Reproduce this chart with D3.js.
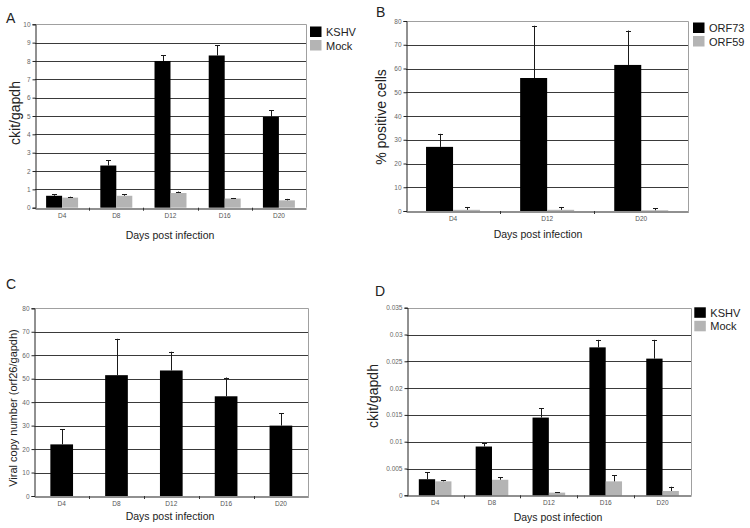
<!DOCTYPE html>
<html>
<head>
<meta charset="utf-8">
<script src="https://cdn.jsdelivr.net/npm/d3@7"></script>
<style>
  html, body { margin: 0; padding: 0; background: #fff; }
  svg { display: block; font-family: "Liberation Sans", Arial, sans-serif; }
</style>
</head>
<body>
<svg id="chart" width="750" height="528"></svg>
<script>
// ---------------- DATA ----------------
const categoriesA = ["D4", "D8", "D12", "D16", "D20"];
const kshvA = [0.65, 2.3, 8.0, 8.3, 4.95];
const kshvAErr = [0.07, 0.3, 0.3, 0.55, 0.35];
const mockA = [0.55, 0.65, 0.8, 0.5, 0.4];
const mockAErr = [0.05, 0.07, 0.08, 0.03, 0.08];
const yTicksA = [0, 1, 2, 3, 4, 5, 6, 7, 8, 9, 10];

const categoriesB = ["D4", "D12", "D20"];
const orf73 = [27, 56, 61.5];
const orf73Err = [5.5, 22, 14.5];
const orf59 = [0.5, 0.5, 0.3];
const orf59Err = [1.2, 1.2, 0.9];
const yTicksB = [0, 10, 20, 30, 40, 50, 60, 70, 80];

const categoriesC = ["D4", "D8", "D12", "D16", "D20"];
const viralCopy = [22, 51.5, 53.5, 42.5, 30];
const viralCopyErr = [6.5, 15.5, 8, 8, 5.3];
const yTicksC = [0, 10, 20, 30, 40, 50, 60, 70, 80];

const categoriesD = ["D4", "D8", "D12", "D16", "D20"];
const kshvD = [0.003, 0.0091, 0.0145, 0.0276, 0.0255];
const kshvDErr = [0.0013, 0.0006, 0.0017, 0.0014, 0.0035];
const mockD = [0.0026, 0.0029, 0.0005, 0.0026, 0.0008];
const mockDErr = [0.0002, 0.0005, 0.0001, 0.0011, 0.0008];
const yTicksD = [0, 0.005, 0.01, 0.015, 0.02, 0.025, 0.03, 0.035];
const yTickLabelsD = ["0", "0.005", "0.01", "0.015", "0.02", "0.025", "0.03", "0.035"];

const seriesNamesAD = ["KSHV", "Mock"];
const seriesNamesB = ["ORF73", "ORF59"];
const xTitle = "Days post infection";

// ---------------- DRAWING ----------------
const svg = d3.select("#chart");
const colors = ["#000000", "#b4b4b4"];

function panel(cfg) {
  const g = svg.append("g");
  const x = d3.scaleBand().domain(cfg.categories).range([cfg.left, cfg.right]);
  const y = d3.scaleLinear().domain([0, cfg.yTicks[cfg.yTicks.length - 1]]).range([cfg.bottom, cfg.top]);
  const nS = cfg.series.length;
  const barW = x.bandwidth() * cfg.barFrac;
  const x1 = d3.scaleBand().domain(d3.range(nS)).range([0, barW * nS]);

  // grid lines
  g.append("g").selectAll("line")
    .data(cfg.yTicks.slice(1, -1))
    .join("line")
    .attr("x1", cfg.left).attr("x2", cfg.right)
    .attr("y1", d => Math.round(y(d)) + 0.5).attr("y2", d => Math.round(y(d)) + 0.5)
    .attr("stroke", "#3a3a3a").attr("stroke-width", 1);

  // top & right border
  g.append("path")
    .attr("d", `M${cfg.left},${Math.round(cfg.top) + 0.5}H${Math.round(cfg.right) + 0.5}V${cfg.bottom}`)
    .attr("fill", "none").attr("stroke", "#a0a0a0").attr("stroke-width", 1);

  // bars
  cfg.series.forEach((s, si) => {
    g.append("g").selectAll("rect")
      .data(s.values.map((v, i) => ({ v, e: s.err[i], c: cfg.categories[i] })))
      .join("rect")
      .attr("x", d => x(d.c) + x.bandwidth() / 2 - barW * nS / 2 + x1(si))
      .attr("width", x1.bandwidth())
      .attr("y", d => y(d.v))
      .attr("height", d => y(0) - y(d.v))
      .attr("fill", colors[si]);
    // error bars (upper only)
    const eb = g.append("g").attr("stroke", "#1a1a1a").attr("stroke-width", 1);
    const data = s.values.map((v, i) => ({ v, e: s.err[i], c: cfg.categories[i] }));
    const cx = d => Math.round(x(d.c) + x.bandwidth() / 2 - barW * nS / 2 + x1(si) + x1.bandwidth() / 2) + 0.5;
    eb.selectAll("line.stem").data(data).join("line").attr("class", "stem")
      .attr("x1", cx).attr("x2", cx)
      .attr("y1", d => y(d.v)).attr("y2", d => y(d.v + d.e));
    eb.selectAll("line.cap").data(data).join("line").attr("class", "cap")
      .attr("x1", d => cx(d) - 2.5).attr("x2", d => cx(d) + 2.5)
      .attr("y1", d => Math.round(y(d.v + d.e)) + 0.5).attr("y2", d => Math.round(y(d.v + d.e)) + 0.5);
  });

  // y axis
  const ya = d3.axisLeft(y).tickValues(cfg.yTicks).tickSize(3).tickPadding(2)
    .tickFormat((d, i) => cfg.yTickLabels ? cfg.yTickLabels[i] : String(d));
  const yg = g.append("g").attr("transform", `translate(${Math.round(cfg.left) + 0.5},0)`).call(ya);
  yg.select(".domain").attr("stroke", "#222");
  yg.selectAll(".tick line").attr("stroke", "#222");
  yg.selectAll(".tick text").attr("fill", "#666").style("font-size", "6.5px")
    .style("font-family", "Liberation Sans, Arial, sans-serif");

  // x axis
  const xa = d3.axisBottom(x).tickSize(0).tickPadding(5);
  const xg = g.append("g").attr("transform", `translate(0,${Math.round(cfg.bottom) + 0.5})`).call(xa);
  xg.select(".domain").attr("stroke", "#222").attr("stroke-width", 1.2);
  xg.selectAll(".tick text").attr("fill", "#555").style("font-size", "6.5px")
    .style("font-family", "Liberation Sans, Arial, sans-serif");
  // separators between categories
  g.append("g").selectAll("line")
    .data(cfg.categories.slice(1))
    .join("line")
    .attr("x1", d => Math.round(x(d)) + 0.5).attr("x2", d => Math.round(x(d)) + 0.5)
    .attr("y1", cfg.bottom).attr("y2", cfg.bottom + 3)
    .attr("stroke", "#333");

  // titles
  g.append("text").attr("x", cfg.xTitleX).attr("y", cfg.xTitleY)
    .attr("text-anchor", "middle").style("font-size", "10.5px").attr("fill", "#222").text(xTitle);
  g.append("text")
    .attr("transform", `translate(${cfg.yTitleX},${cfg.yTitleY}) rotate(-90)`)
    .attr("text-anchor", "middle").style("font-size", cfg.yTitleSize).attr("fill", "#222").text(cfg.yTitle);
  g.append("text").attr("x", cfg.letterX).attr("y", cfg.letterY)
    .style("font-size", "14px").attr("fill", "#222").text(cfg.letter);

  // legend
  if (cfg.legendX !== undefined) {
    cfg.series.forEach((s, si) => {
      g.append("rect").attr("x", cfg.legendX).attr("y", cfg.legendY + si * 13.5)
        .attr("width", 11.5).attr("height", 10.5).attr("fill", colors[si]);
      g.append("text").attr("x", cfg.legendX + 16).attr("y", cfg.legendY + si * 13.5 + 9.5)
        .style("font-size", "11px").attr("fill", "#222").text(s.name);
    });
  }
}

panel({
  letter: "A", letterX: 6, letterY: 23,
  categories: categoriesA, yTicks: yTicksA,
  series: [
    { name: seriesNamesAD[0], values: kshvA, err: kshvAErr },
    { name: seriesNamesAD[1], values: mockA, err: mockAErr }
  ],
  left: 35, right: 306, top: 24.3, bottom: 207.7, barFrac: 0.295,
  yTitle: "ckit/gapdh", yTitleX: 20, yTitleY: 113, yTitleSize: "14px",
  xTitleX: 170, xTitleY: 239,
  legendX: 310, legendY: 26.5
});

panel({
  letter: "B", letterX: 376, letterY: 17,
  categories: categoriesB, yTicks: yTicksB,
  series: [
    { name: seriesNamesB[0], values: orf73, err: orf73Err },
    { name: seriesNamesB[1], values: orf59, err: orf59Err }
  ],
  left: 406, right: 688.3, top: 21, bottom: 211, barFrac: 0.287,
  yTitle: "% positive cells", yTitleX: 386, yTitleY: 117, yTitleSize: "14px",
  xTitleX: 538, xTitleY: 238,
  legendX: 693, legendY: 22.5
});

panel({
  letter: "C", letterX: 6, letterY: 289,
  categories: categoriesC, yTicks: yTicksC,
  series: [
    { name: "Viral copy number", values: viralCopy, err: viralCopyErr }
  ],
  left: 34.3, right: 308.3, top: 308.3, bottom: 496, barFrac: 0.414,
  yTitle: "Viral copy number (orf26/gapdh)", yTitleX: 17, yTitleY: 408, yTitleSize: "11px",
  xTitleX: 170, xTitleY: 520
});

panel({
  letter: "D", letterX: 375, letterY: 296,
  categories: categoriesD, yTicks: yTicksD, yTickLabels: yTickLabelsD,
  series: [
    { name: seriesNamesAD[0], values: kshvD, err: kshvDErr },
    { name: seriesNamesAD[1], values: mockD, err: mockDErr }
  ],
  left: 406.7, right: 691, top: 307.7, bottom: 495.3, barFrac: 0.287,
  yTitle: "ckit/gapdh", yTitleX: 378, yTitleY: 396, yTitleSize: "14px",
  xTitleX: 558, xTitleY: 521,
  legendX: 694.3, legendY: 307.3
});
</script>
</body>
</html>
